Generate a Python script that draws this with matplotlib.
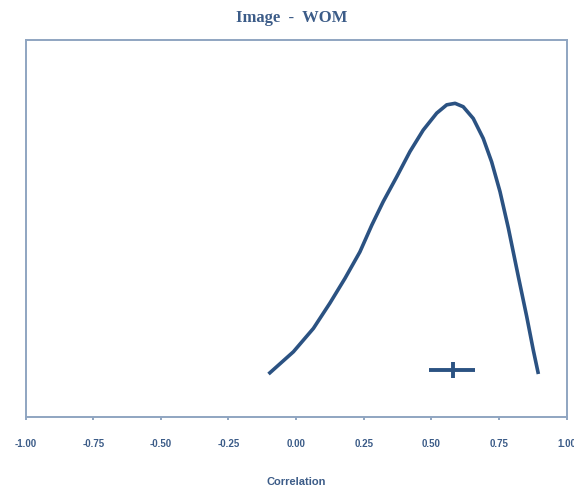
import matplotlib.pyplot as plt

# density curve (correlation vs. relative density)
corr = [-0.102, -0.010, 0.064, 0.125, 0.181, 0.236, 0.280, 0.322, 0.372,
        0.421, 0.470, 0.520, 0.557, 0.588, 0.618, 0.655, 0.692, 0.723,
        0.754, 0.785, 0.822, 0.853, 0.877, 0.896]
dens = [0.114, 0.173, 0.235, 0.302, 0.368, 0.438, 0.509, 0.571, 0.637,
        0.704, 0.761, 0.806, 0.828, 0.832, 0.823, 0.792, 0.739, 0.677,
        0.598, 0.501, 0.372, 0.266, 0.178, 0.114]

# point estimate and interval
est = 0.581
ci_low = 0.493
ci_high = 0.662
est_y = 0.125

ticks = [-1.0, -0.75, -0.5, -0.25, 0.0, 0.25, 0.5, 0.75, 1.0]

line_col = "#2B5282"
frame_col = "#8FA5C1"
text_col = "#3C5C88"

fig = plt.figure(figsize=(5.74, 4.86), dpi=100)
ax = fig.add_axes([25.7 / 574, 69 / 486, 540.8 / 574, 377 / 486])

ax.plot(corr, dens, color=line_col, lw=2.6, solid_capstyle="butt",
        solid_joinstyle="round")
ax.plot([ci_low, ci_high], [est_y, est_y], color=line_col, lw=2.8,
        solid_capstyle="butt")
ax.plot([est], [est_y], marker="|", markersize=11.5, markeredgewidth=2.8,
        color=line_col)

ax.set_xlim(-1, 1)
ax.set_ylim(0, 1)
ax.set_yticks([])
ax.set_xticks(ticks)
ax.set_xticklabels(["%.2f" % t for t in ticks], fontsize=7,
                   fontweight="bold", color=text_col,
                   family=["Liberation Sans", "DejaVu Sans"])
ax.tick_params(axis="x", direction="out", length=2.3, width=1.4,
               color=frame_col, pad=13.3)
for s in ax.spines.values():
    s.set_color(frame_col)
    s.set_linewidth(1.4)

ax.set_xlabel("Correlation", fontsize=8, fontweight="bold", color=text_col,
              family=["Liberation Sans", "DejaVu Sans"])
ax.xaxis.set_label_coords(0.5, (417 - 481.7) / 377)
ax.xaxis.label.set_va("center")

fig.text(292 / 574, 1 - 18.3 / 486, "Image  -  WOM", ha="center",
         va="center", fontsize=12, fontweight="bold", color=text_col,
         family=["Liberation Serif", "DejaVu Serif"])

fig.savefig("out.png", dpi=100)
